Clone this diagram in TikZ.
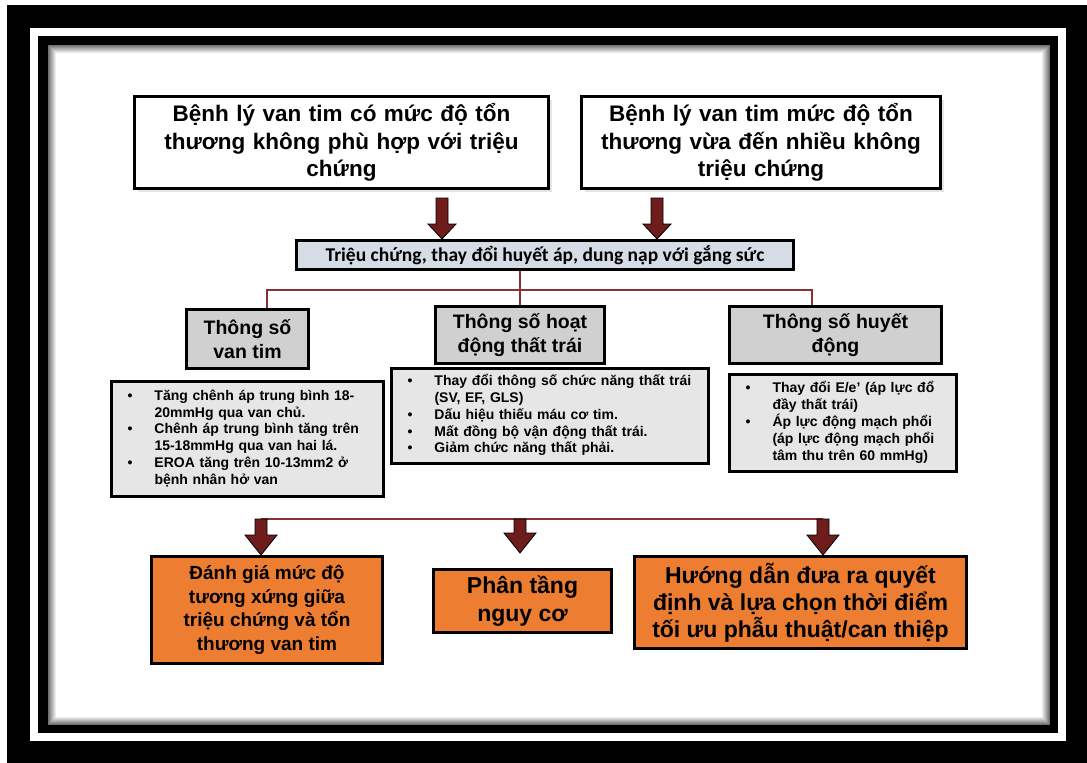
\documentclass[tikz,border=0pt]{standalone}
\usepackage{fontspec}
\setmainfont{Liberation Sans}
\newfontfamily\calib{Carlito}
\usetikzlibrary{calc, shadows}
\definecolor{arrowred}{RGB}{110,28,28}
\definecolor{linkred}{RGB}{135,50,50}
\definecolor{hdrgray}{RGB}{208,208,208}
\definecolor{listgray}{RGB}{230,230,230}
\definecolor{sympblue}{RGB}{214,220,229}
\definecolor{outorange}{RGB}{237,125,49}
\newcommand{\blockarrow}[4]{%
  \draw[arrowbody] let \p1=(#1), \p2=(#2) in
    (\x1-6pt,\y1) -- (\x1+6pt,\y1) -- (\x1+6pt,\y2+#4) -- (\x1+#3,\y2+#4)
    -- (\x1,\y2) -- (\x1-#3,\y2+#4) -- (\x1-6pt,\y2+#4) -- cycle;}
\newenvironment{bullist}{\begin{tabular}{@{\hspace{8pt}}p{27pt}@{}l@{}}}{\end{tabular}}

\begin{document}
\begin{tikzpicture}[x=1pt, y=-1pt,
  topbox/.style={draw, line width=3pt, fill=white, align=center, inner sep=0pt,
    font=\bfseries\fontsize{22.5}{27.5}\selectfont,
    drop shadow={opacity=.2, shadow xshift=3pt, shadow yshift=-3pt}},
  sympbox/.style={draw, line width=3pt, fill=sympblue, inner sep=0pt,
    font=\calib\bfseries\fontsize{19.5}{22}\selectfont},
  hdrbox/.style={draw, line width=3.5pt, fill=hdrgray, align=center, inner sep=0pt,
    font=\bfseries\fontsize{19.5}{24}\selectfont},
  listbox/.style={draw, line width=3.5pt, fill=listgray, align=left, inner xsep=8pt,
    font=\bfseries\fontsize{14}{16.8}\selectfont},
  outbox/.style={draw, line width=3pt, fill=outorange, align=center, inner sep=0pt},
  link/.style={draw=linkred, line width=2pt},
  arrowbody/.style={fill=arrowred, draw=black, line width=0.8pt}]
  \useasboundingbox (0,0) rectangle (1087,763);

  \fill[black] (7,5) rectangle (1087,763);
  \fill[white] (30,28) rectangle (1066,741);
  \fill[black] (38,36) rectangle (1058,733);
  \fill[white] (48,45) rectangle (1050,725);
  \foreach \i [evaluate=\i as \g using int(56-7*\i)] in {0,...,7}
    \draw[black!\g, line width=1pt] (48.5+\i,45.5+\i) rectangle (1049.5-\i,724.5-\i);

  \node[topbox, text width=410pt, minimum width=414pt, minimum height=92pt] (lesionA) at (341.5,142.5)
    {Bệnh lý van tim có mức độ tổn\\thương không phù hợp với triệu\\chứng};
  \node[topbox, text width=355pt, minimum width=359pt, minimum height=92pt] (lesionB) at (761,142.5)
    {Bệnh lý van tim mức độ tổn\\thương vừa đến nhiều không\\triệu chứng};

  \node[sympbox, minimum width=497pt, minimum height=29pt] (symp) at (545,255)
    {Triệu chứng, thay đổi huyết áp, dung nạp với gắng sức};

  \node[hdrbox, minimum width=122pt, minimum height=59pt] (valve) at (247.5,339) {Thông số\\van tim};
  \node[hdrbox, minimum width=169pt, minimum height=57pt] (lv) at (520,335) {Thông số hoạt\\động thất trái};
  \node[hdrbox, minimum width=212pt, minimum height=57pt] (hemo) at (835.5,335) {Thông số huyết\\động};

  \node[listbox, text width=256pt, minimum height=115pt] (valvelist) at (247.5,439)
    {\begin{bullist}
     • & Tăng chênh áp trung bình 18-\\ & 20mmHg qua van chủ.\\
     • & Chênh áp trung bình tăng trên\\ & 15-18mmHg qua van hai lá.\\
     • & EROA tăng trên 10-13mm2 ở\\ & bệnh nhân hở van
     \end{bullist}};
  \node[listbox, text width=301pt, minimum height=95pt] (lvlist) at (550,416)
    {\begin{bullist}
     • & Thay đổi thông số chức năng thất trái\\ & (SV, EF, GLS)\\
     • & Dấu hiệu thiếu máu cơ tim.\\
     • & Mất đồng bộ vận động thất trái.\\
     • & Giảm chức năng thất phải.
     \end{bullist}};
  \node[listbox, text width=211pt, minimum height=97pt] (hemolist) at (843,423)
    {\begin{bullist}
     • & Thay đổi E/e' (áp lực đổ\\ & đầy thất trái)\\
     • & Áp lực động mạch phổi\\ & (áp lực động mạch phổi\\ & tâm thu trên 60 mmHg)
     \end{bullist}};

  \node[outbox, font=\bfseries\fontsize{19}{23.5}\selectfont, minimum width=231pt, minimum height=107pt] (assess) at (267,610)
    {Đánh giá mức độ\\tương xứng giữa\\triệu chứng và tổn\\thương van tim};
  \node[outbox, font=\bfseries\fontsize{23}{28}\selectfont, minimum width=178pt, minimum height=63pt] (risk) at (522.5,601)
    {Phân tầng\\nguy cơ};
  \node[outbox, font=\bfseries\fontsize{23}{27}\selectfont, minimum width=332pt, minimum height=92pt] (guide) at (800.5,602.5)
    {Hướng dẫn đưa ra quyết\\định và lựa chọn thời điểm\\tối ưu phẫu thuật/can thiệp};

  \coordinate (inL) at (442,198);
  \coordinate (inR) at (657,198);
  \blockarrow{inL}{inL |- symp.north}{14pt}{15pt}
  \blockarrow{inR}{inR |- symp.north}{14pt}{15pt}

  \coordinate (busL) at (267,290);
  \coordinate (busR) at (812,290);
  \draw[link] (lv.north |- symp.south) -- (lv.north);
  \draw[link] (valve.north -| busL) -- (busL) -- (busR) -- (hemo.north -| busR);

  \coordinate (outL) at (261,519);
  \coordinate (outM) at (520,519);
  \coordinate (outR) at (823,519);
  \coordinate (riskTip) at (520,553);
  \draw[link] (outL) -- (outR);
  \blockarrow{outL}{outL |- assess.north}{16pt}{20pt}
  \blockarrow{outM}{riskTip}{16pt}{20pt}
  \blockarrow{outR}{outR |- guide.north}{16pt}{20pt}
\end{tikzpicture}
\end{document}
